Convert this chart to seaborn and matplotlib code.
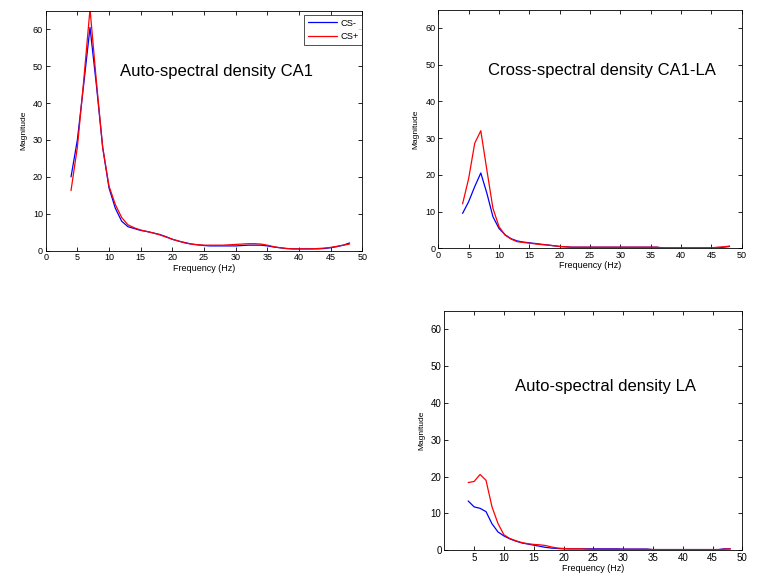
import pandas as pd
import numpy as np
from matplotlib import pyplot as plt
import seaborn as sns

freqs = list(range(4, 49))

# Auto-spectral density CA1
ca1_cs_minus = [20, 30, 45, 60.5, 45, 28, 17, 11.5, 8, 6.5, 6, 5.5, 5.2, 4.8, 4.4, 3.8, 3.1, 2.6, 2.2, 1.8,
                1.6, 1.4, 1.3, 1.3, 1.3, 1.3, 1.3, 1.4, 1.5, 1.5, 1.5, 1.3, 1.0, 0.8, 0.6, 0.5, 0.5, 0.5,
                0.5, 0.5, 0.6, 0.8, 1.1, 1.5, 2.1]
ca1_cs_plus = [16.3, 28, 46, 65.5, 46, 28, 17.5, 12.5, 9, 7, 6.2, 5.6, 5.2, 4.8, 4.3, 3.7, 3.1, 2.6, 2.1, 1.8,
               1.6, 1.5, 1.5, 1.5, 1.5, 1.6, 1.7, 1.8, 1.9, 1.9, 1.8, 1.5, 1.1, 0.8, 0.6, 0.5, 0.5, 0.5,
               0.5, 0.6, 0.7, 0.9, 1.2, 1.5, 1.8]

# Cross-spectral density CA1-LA
cross_cs_minus = [9.5, 12.7, 16.8, 20.5, 15, 8.6, 5.4, 3.7, 2.6, 2.0, 1.7, 1.5, 1.3, 1.1, 0.9, 0.7, 0.5, 0.4,
                  0.3, 0.3, 0.3, 0.3, 0.3, 0.3, 0.3, 0.3, 0.3, 0.3, 0.3, 0.3, 0.3, 0.3, 0.3, 0.1, 0.1, 0.1,
                  0.1, 0.1, 0.1, 0.1, 0.1, 0.1, 0.1, 0.3, 0.5]
cross_cs_plus = [12.1, 19, 28.6, 32, 21.3, 10.9, 5.9, 3.6, 2.5, 1.8, 1.6, 1.4, 1.2, 1.0, 0.9, 0.7, 0.5, 0.4,
                 0.3, 0.3, 0.3, 0.3, 0.3, 0.3, 0.3, 0.3, 0.3, 0.3, 0.3, 0.3, 0.3, 0.3, 0.3, 0.1, 0.1, 0.1,
                 0.1, 0.1, 0.1, 0.1, 0.1, 0.1, 0.3, 0.4, 0.6]

# Auto-spectral density LA
la_cs_minus = [13.4, 11.8, 11.4, 10.5, 7.2, 5.0, 3.9, 3.1, 2.5, 2.0, 1.7, 1.4, 1.1, 0.8, 0.6, 0.5, 0.4, 0.4,
               0.4, 0.4, 0.4, 0.4, 0.4, 0.4, 0.4, 0.4, 0.35, 0.35, 0.35, 0.35, 0.35, 0.2, 0.2, 0.2, 0.2,
               0.2, 0.2, 0.2, 0.2, 0.2, 0.2, 0.2, 0.2, 0.4, 0.4]
la_cs_plus = [18.4, 18.7, 20.6, 19, 11.8, 7.3, 4.2, 3.2, 2.6, 2.1, 1.8, 1.6, 1.5, 1.3, 0.9, 0.6, 0.5, 0.4,
              0.4, 0.4, 0.3, 0.25, 0.25, 0.25, 0.25, 0.25, 0.25, 0.25, 0.25, 0.25, 0.25, 0.2, 0.2, 0.2, 0.2,
              0.2, 0.2, 0.2, 0.2, 0.2, 0.2, 0.2, 0.2, 0.3, 0.4]

panels = [
    ("Auto-spectral density CA1", ca1_cs_minus, ca1_cs_plus),
    ("Cross-spectral density CA1-LA", cross_cs_minus, cross_cs_plus),
    ("Auto-spectral density LA", la_cs_minus, la_cs_plus),
]

sns.set_style("ticks")
plt.rcParams["font.family"] = ["Liberation Sans", "DejaVu Sans"]
plt.rcParams.update({"text.color": "black", "axes.labelcolor": "black",
                     "xtick.color": "black", "ytick.color": "black"})

colors = {"CS-": "#0000ff", "CS+": "#ff0000"}

fig = plt.figure(figsize=(7.59, 5.87), dpi=100)
positions = [
    [0.0602, 0.5729, 0.4171, 0.4087],
    [0.5775, 0.5770, 0.3997, 0.4068],
    [0.5854, 0.0625, 0.3926, 0.4077],
]
text_pos = [(27, 48.5), (27, 48.5), (27, 44.5)]

for i, (title, cs_minus, cs_plus) in enumerate(panels):
    ax = fig.add_axes(positions[i])
    df = pd.DataFrame({
        "freq": freqs * 2,
        "mag": cs_minus + cs_plus,
        "cond": ["CS-"] * len(freqs) + ["CS+"] * len(freqs),
    })
    sns.lineplot(data=df, x="freq", y="mag", hue="cond", palette=colors,
                 linewidth=0.9, ax=ax, legend=(i == 0))
    ax.set_xlim(0, 50)
    ax.set_ylim(0, 65)
    if i == 2:
        ax.set_xticks(range(5, 55, 5))
        tick_fs = 7
    else:
        ax.set_xticks(range(0, 55, 5))
        tick_fs = 6.5
    ax.set_yticks(range(0, 70, 10))
    for side in ["top", "right", "left", "bottom"]:
        ax.spines[side].set_visible(True)
        ax.spines[side].set_linewidth(0.6)
        ax.spines[side].set_color("black")
    ax.tick_params(direction="in", length=3, width=0.6, top=True, right=True,
                   labelsize=tick_fs, pad=2)
    ax.set_xlabel("Frequency (Hz)", fontsize=6.5, labelpad=1)
    ax.set_ylabel("Magnitude", fontsize=6, labelpad=4)
    ax.text(text_pos[i][0], text_pos[i][1], title, fontsize=12, ha="center", va="center",
            color="black")
    if i == 0:
        leg = ax.legend(loc="upper right", bbox_to_anchor=(1.0, 1 - 4.2 / 240), fontsize=6.7,
                        handlelength=3.1, handletextpad=0.4, frameon=True, fancybox=False,
                        borderaxespad=0, borderpad=0.4, labelspacing=0.5, title=None)
        leg.get_frame().set_edgecolor("black")
        leg.get_frame().set_linewidth(0.6)

plt.savefig("out.png", dpi=100)
